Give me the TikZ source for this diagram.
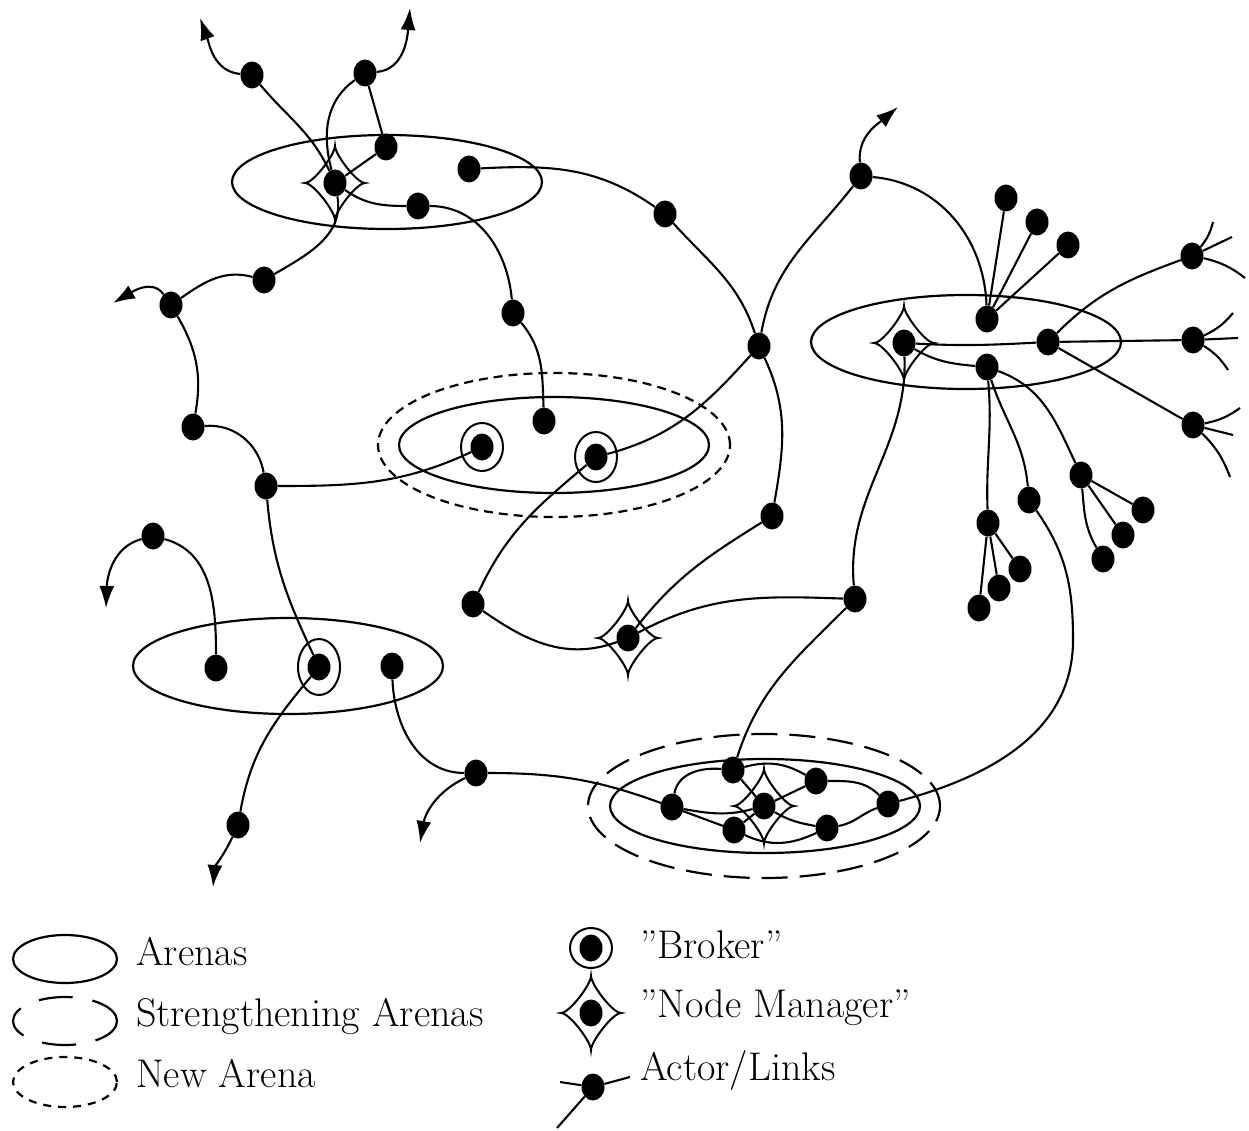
\documentclass[tikz,border=0pt]{standalone}
\usepackage{tikz}
\usetikzlibrary{arrows.meta, shapes.geometric}

\begin{document}
\begin{tikzpicture}[
  x=1pt, y=1pt,
  actor/.style={ellipse, fill=black, inner sep=0pt, minimum width=23pt, minimum height=27pt},
  ring/.style={ellipse, draw, line width=2pt, inner sep=0pt, minimum width=42pt, minimum height=50pt},
  arena/.style={ellipse, draw, line width=2.2pt, inner sep=0pt},
  newarena/.style={arena, dash pattern=on 9pt off 6pt},
  strongarena/.style={arena, dash pattern=on 26pt off 12pt},
  link/.style={line width=2.1pt},
  leaving/.style={link, -{Latex[length=22pt, width=15pt]}},
  legtext/.style={anchor=base west, inner sep=0pt, font=\fontsize{40}{48}\selectfont},
  manager/.pic={
    \draw[line width=2pt] (-30,0) to[out=0,in=-90,looseness=0.45] (0,37)
      to[out=-90,in=180,looseness=0.45] (30,0)
      to[out=180,in=90,looseness=0.45] (0,-37)
      to[out=90,in=0,looseness=0.45] cycle;}
]
  \useasboundingbox (0,0) rectangle (1249,-1131);

  % arenas
  \node[arena, minimum width=310pt, minimum height=94pt] (arenaTop) at (387,-182) {};
  \node[newarena, minimum width=352pt, minimum height=144pt] (arenaNewOut) at (554,-445) {};
  \node[arena, minimum width=310pt, minimum height=96pt] (arenaNew) at (554,-445) {};
  \node[arena, minimum width=310pt, minimum height=94pt] (arenaRight) at (966,-342) {};
  \node[arena, minimum width=310pt, minimum height=96pt] (arenaLeft) at (288,-666) {};
  \node[strongarena, minimum width=352pt, minimum height=144pt] (arenaStrongOut) at (764,-806) {};
  \node[arena, minimum width=310pt, minimum height=94pt] (arenaStrong) at (765,-806) {};

  % actors
  \node[actor] (a1) at (252,-75) {};
  \node[actor] (a2) at (365,-73) {};
  \node[actor] (nm1) at (335,-183) {};
  \node[actor] (a3) at (386,-147) {};
  \node[actor] (a4) at (469,-169) {};
  \node[actor] (a5) at (418,-206) {};
  \node[actor] (a6) at (264,-280) {};
  \node[actor] (a7) at (171,-305) {};
  \node[actor] (a8) at (513,-313) {};
  \node[actor] (a9) at (665,-214) {};
  \node[actor] (hub) at (759,-346) {};
  \node[actor] (a10) at (193,-427) {};
  \node[actor] (a11) at (266,-486) {};
  \node[actor] (br1) at (482,-447) {};
  \node[actor] (a12) at (544,-421) {};
  \node[actor] (br2) at (596,-457) {};
  \node[actor] (a13) at (473,-604) {};
  \node[actor] (nm2) at (628,-638) {};
  \node[actor] (a14) at (772,-516) {};
  \node[actor] (a15) at (855,-599) {};
  \node[actor] (a17) at (861,-176) {};
  \node[actor] (a18) at (987,-319) {};
  \node[actor] (t1) at (1006,-198) {};
  \node[actor] (t2) at (1037,-222) {};
  \node[actor] (t3) at (1068,-245) {};
  \node[actor] (nm3) at (904,-343) {};
  \node[actor] (a19) at (1048,-342) {};
  \node[actor] (a20) at (987,-367) {};
  \node[actor] (r1) at (1192,-256) {};
  \node[actor] (r2) at (1193,-340) {};
  \node[actor] (r3) at (1193,-425) {};
  \node[actor] (d1) at (988,-523) {};
  \node[actor] (d2) at (979,-608) {};
  \node[actor] (d3) at (999,-588) {};
  \node[actor] (d4) at (1020,-569) {};
  \node[actor] (d5) at (1029,-500) {};
  \node[actor] (d6) at (1081,-475) {};
  \node[actor] (d7) at (1143,-510) {};
  \node[actor] (d8) at (1123,-535) {};
  \node[actor] (d9) at (1103,-559) {};
  \node[actor] (c1) at (216,-668) {};
  \node[actor] (br3) at (319,-667) {};
  \node[actor] (c2) at (392,-666) {};
  \node[actor] (c3) at (153,-536) {};
  \node[actor] (c4) at (238,-825) {};
  \node[actor] (c5) at (476,-773) {};
  \node[actor] (s1) at (672,-807) {};
  \node[actor] (s2) at (733,-770) {};
  \node[actor] (s3) at (816,-781) {};
  \node[actor] (nm4) at (764,-806) {};
  \node[actor] (s4) at (734,-830) {};
  \node[actor] (s5) at (827,-828) {};
  \node[actor] (s6) at (888,-804) {};

  % brokers and node managers
  \node[ring, minimum height=48pt] (ring1) at (br1) {};
  \node[ring] (ring2) at (br2) {};
  \node[ring, minimum height=56pt] (ring3) at (br3) {};
  \pic at (nm1) {manager};
  \pic at (nm2) {manager};
  \pic at (nm3) {manager};
  \pic at (nm4) {manager};

  % free ends
  \coordinate (tipA1) at (200,-18);
  \coordinate (tipA2) at (410,-8);
  \coordinate (tipA7) at (113,-303);
  \coordinate (tipA17) at (898,-107);
  \coordinate (tipC3) at (106,-608);
  \coordinate (tipC4) at (213,-887);
  \coordinate (tipC5) at (420,-843);
  \coordinate (bendR) at (1073,-640);
  \coordinate (r1u) at (1213,-222);
  \coordinate (r1m) at (1232,-237);
  \coordinate (r1d) at (1245,-278);
  \coordinate (r2u) at (1233,-313);
  \coordinate (r2m) at (1238,-338);
  \coordinate (r2d) at (1228,-370);
  \coordinate (r3u) at (1240,-408);
  \coordinate (r3m) at (1233,-435);
  \coordinate (r3d) at (1230,-477);

  % outgoing links
  \draw[leaving] (a1) to[out=175,in=-70] (tipA1);
  \draw[leaving] (a2) to[out=5,in=-95] (tipA2);
  \draw[leaving] (a7) to[out=125,in=30] (tipA7);
  \draw[leaving] (a17) to[out=95,in=-140] (tipA17);
  \draw[leaving] (c3) to[out=195,in=88] (tipC3);
  \draw[leaving] (c4) to[out=-115,in=85] (tipC4);
  \draw[leaving] (c5) to[out=205,in=80] (tipC5);

  % links
  \draw[link] (a1) to[out=-50,in=115] (nm1);
  \draw[link] (a2) to[out=-145,in=105] (nm1);
  \draw[link] (a2) -- (a3);
  \draw[link] (a3) -- (nm1);
  \draw[link] (nm1) to[out=-35,in=180] (a5);
  \draw[link] (a5) to[out=0,in=95] (a8);
  \draw[link] (a4) to[out=3,in=145] (a9);
  \draw[link] (a9) to[out=-48,in=108] (hub);
  \draw[link] (nm1) to[out=-80,in=30] (a6);
  \draw[link] (a6) to[out=165,in=35] (a7);
  \draw[link] (a7) to[out=-60,in=80] (a10);
  \draw[link] (a10) to[out=5,in=100] (a11);
  \draw[link] (a11) to[out=0,in=205] (br1);
  \draw[link] (a11) to[out=-85,in=115] (br3);
  \draw[link] (a8) to[out=-50,in=92] (a12);
  \draw[link] (br2) to[out=15,in=228] (hub);
  \draw[link] (br2) to[out=-140,in=65] (a13);
  \draw[link] (a13) to[out=-35,in=200] (nm2);
  \draw[link] (nm2) to[out=52,in=212] (a14);
  \draw[link] (hub) to[out=-65,in=80] (a14);
  \draw[link] (nm2) to[out=28,in=178] (a15);
  \draw[link] (nm3) to[out=-88,in=95] (a15);
  \draw[link] (a15) to[out=-135,in=72] (s2);
  \draw[link] (hub) to[out=80,in=232] (a17);
  \draw[link] (a17) to[out=-5,in=92] (a18);
  \foreach \t in {t1,t2,t3}
    \draw[link] (a18) -- (\t);
  \draw[link] (nm3) to[out=-3,in=183] (a19);
  \draw[link] (nm3) to[out=-30,in=175] (a20);
  \draw[link] (a19) to[out=45,in=200] (r1);
  \draw[link] (a19) -- (r2);
  \draw[link] (a19) -- (r3);
  \foreach \r in {r1,r2,r3} {
    \draw[link] (\r) to[bend right=12] (\r u);
    \draw[link] (\r) -- (\r m);
    \draw[link] (\r) to[bend left=12] (\r d);
  }
  \draw[link] (a20) to[out=-85,in=92] (d1);
  \foreach \d in {d2,d3,d4}
    \draw[link] (d1) -- (\d);
  \draw[link] (a20) to[out=-72,in=95] (d5);
  \draw[link] (d5) to[out=-55,in=90] (bendR) to[out=-90,in=15] (s6);
  \draw[link] (a20) to[out=-20,in=115] (d6);
  \draw[link] (d6) -- (d7);
  \draw[link] (d6) to[out=-55,in=125] (d8);
  \draw[link] (d6) to[out=-85,in=120] (d9);
  \draw[link] (c3) to[out=-15,in=90] (c1);
  \draw[link] (br3) to[out=-130,in=80] (c4);
  \draw[link] (c2) to[out=-88,in=180] (c5);
  \draw[link] (c5) to[out=0,in=160] (s1);

  % strengthening arena
  \draw[link] (s1) to[out=80,in=175] (s2);
  \draw[link] (s2) to[out=15,in=150] (s3);
  \draw[link] (s3) to[out=0,in=135] (s6);
  \draw[link] (s2) -- (nm4);
  \draw[link] (s3) -- (nm4);
  \draw[link] (s4) -- (nm4);
  \draw[link] (s1) -- (s4);
  \draw[link] (s1) to[out=-10,in=195] (nm4);
  \draw[link] (nm4) to[out=-30,in=170] (s5);
  \draw[link] (s4) to[out=-25,in=-155] (s5);
  \draw[link] (s5) to[out=10,in=200] (s6);

  % legend
  \node[arena, minimum width=104pt, minimum height=48pt] (legArena) at (65,-959) {};
  \node[strongarena, dash pattern=on 34pt off 20pt, minimum width=104pt, minimum height=48pt] (legStrong) at (65,-1021) {};
  \node[newarena, dash pattern=on 8pt off 7pt, minimum width=104pt, minimum height=50pt] (legNew) at (65,-1082) {};
  \node[legtext] (txtArena) at (136,-965) {Arenas};
  \node[legtext] (txtStrong) at (136,-1026) {Strengthening Arenas};
  \node[legtext] (txtNew) at (136,-1087) {New Arena};

  \node[actor] (legBroker) at (591,-948) {};
  \node[ring, minimum height=40pt] (legRing) at (legBroker) {};
  \node[legtext] (txtBroker) at (640,-958) {''Broker''};
  \node[actor] (legManager) at (591,-1013) {};
  \pic at (legManager) {manager};
  \node[legtext] (txtManager) at (640,-1017) {''Node Manager''};
  \node[actor] (legActor) at (593,-1087) {};
  \coordinate (legL) at (560,-1082);
  \coordinate (legR) at (630,-1077);
  \coordinate (legB) at (557,-1128);
  \draw[link] (legActor) -- (legL);
  \draw[link] (legActor) -- (legR);
  \draw[link] (legActor) -- (legB);
  \node[legtext] (txtActor) at (640,-1080) {Actor/Links};
\end{tikzpicture}
\end{document}
